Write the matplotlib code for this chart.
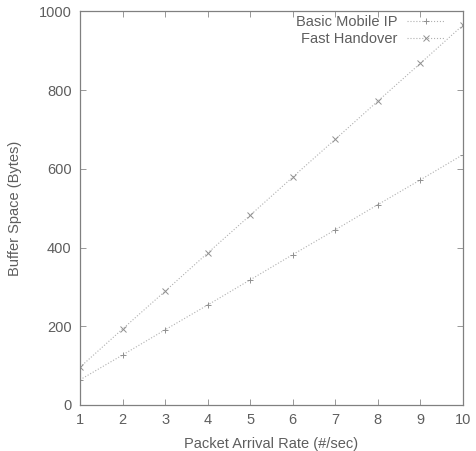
import matplotlib
matplotlib.use('Agg')
import matplotlib.pyplot as plt

# values
rate = [1, 2, 3, 4, 5, 6, 7, 8, 9, 10]
basic_mip = [64, 127, 191, 254, 318, 382, 445, 509, 572, 636]
fast_ho = [96, 193, 289, 386, 482, 579, 675, 772, 868, 965]

plt.rcParams['font.family'] = ['Liberation Sans', 'DejaVu Sans']

text_col = '#5e5e5e'
line_col = '#b0b0b0'

fig = plt.figure(figsize=(4.77, 4.51), dpi=100)
ax = fig.add_axes([0.1677, 0.102, 0.803, 0.873])

ax.plot(rate, basic_mip, linestyle=':', color=line_col, linewidth=0.8,
        marker='+', markersize=5, markeredgewidth=0.7, markeredgecolor='#909090',
        label='Basic Mobile IP')
ax.plot(rate, fast_ho, linestyle=':', color=line_col, linewidth=0.8,
        marker='x', markersize=4, markeredgewidth=0.7, markeredgecolor='#909090',
        label='Fast Handover')

ax.set_xlim(1, 10)
ax.set_ylim(0, 1000)
ax.set_xticks(rate)
ax.set_yticks(range(0, 1001, 200))
ax.tick_params(direction='in', top=True, right=True, colors='#888888',
               labelcolor=text_col, length=4, width=0.6, labelsize=10.5, pad=6)
for s in ax.spines.values():
    s.set_color('#808080')
    s.set_linewidth(0.9)

ax.set_xlabel('Packet Arrival Rate (#/sec)', color=text_col, fontsize=10.5, labelpad=7)
ax.set_ylabel('Buffer Space (Bytes)', color=text_col, fontsize=10.5, labelpad=12)

leg = ax.legend(loc='upper right', bbox_to_anchor=(0.963, 1.0),
                markerfirst=False, frameon=False,
                handlelength=2.6, handletextpad=0.7, borderaxespad=0.0,
                labelspacing=0.2, borderpad=0.25, fontsize=10.5)
for t in leg.get_texts():
    t.set_color(text_col)

fig.savefig('out.png', dpi=100)
